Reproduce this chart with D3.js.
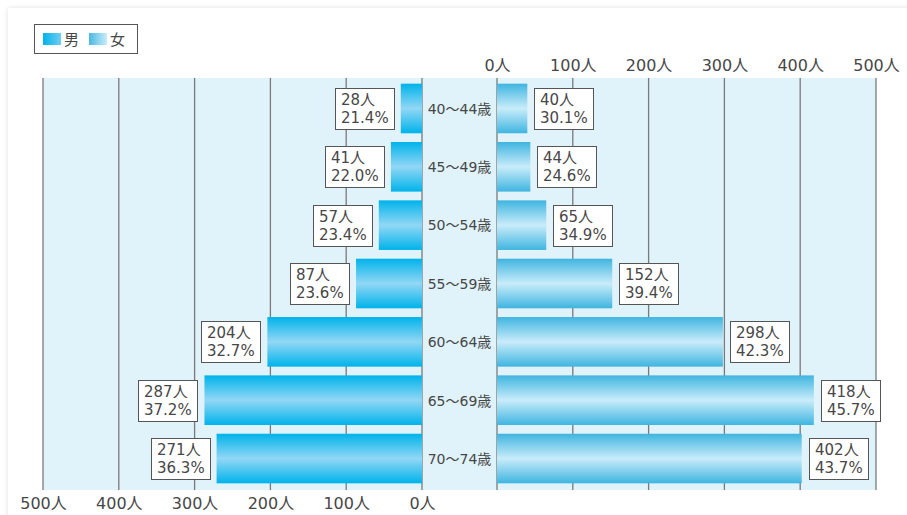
<!DOCTYPE html>
<html>
<head>
<meta charset="utf-8">
<script src="https://cdn.jsdelivr.net/npm/d3@7"></script>
<style>
  body { margin: 0; background: #fff; }
  svg { display: block; font-family: "DejaVu Sans", "Noto Sans CJK JP", sans-serif; }
</style>
</head>
<body>
<svg id="chart" width="907" height="515"></svg>
<script>
// age groups and values
const ages = ["40～44歳", "45～49歳", "50～54歳", "55～59歳", "60～64歳", "65～69歳", "70～74歳"];
const maleCount = [28, 41, 57, 87, 204, 287, 271];
const malePct = [21.4, 22.0, 23.4, 23.6, 32.7, 37.2, 36.3];
const femaleCount = [40, 44, 65, 152, 298, 418, 402];
const femalePct = [30.1, 24.6, 34.9, 39.4, 42.3, 45.7, 43.7];
const ticks = [0, 100, 200, 300, 400, 500];

const svg = d3.select("#chart");
const plotTop = 78, plotBottom = 490;
const textColor = "#474747";

// card with a soft shadow
const defs = svg.append("defs");
const f = defs.append("filter").attr("id", "shadow").attr("x", "-5%").attr("y", "-5%").attr("width", "110%").attr("height", "110%");
f.append("feDropShadow").attr("dx", 0).attr("dy", 0).attr("stdDeviation", 2.5).attr("flood-color", "#000").attr("flood-opacity", 0.12);
svg.append("rect").attr("x", 8).attr("y", 8).attr("width", 940).attr("height", 540)
    .attr("fill", "#fff").attr("filter", "url(#shadow)");

// gradients
function vGrad(id, edge, mid) {
    const g = defs.append("linearGradient").attr("id", id).attr("x1", 0).attr("y1", 0).attr("x2", 0).attr("y2", 1);
    g.append("stop").attr("offset", "0%").attr("stop-color", edge);
    g.append("stop").attr("offset", "50%").attr("stop-color", mid);
    g.append("stop").attr("offset", "100%").attr("stop-color", edge);
}
function hGrad(id, a, b) {
    const g = defs.append("linearGradient").attr("id", id).attr("x1", 0).attr("y1", 0).attr("x2", 1).attr("y2", 0);
    g.append("stop").attr("offset", "0%").attr("stop-color", a);
    g.append("stop").attr("offset", "100%").attr("stop-color", b);
}
vGrad("maleGrad", "#00b3ea", "#92d7f5");
vGrad("femaleGrad", "#3fb5e0", "#c9ecfa");
hGrad("maleLeg", "#00b3ea", "#6fcdf2");
hGrad("femaleLeg", "#4ab9e2", "#c9ecfa");

// scales
const xLeft = d3.scaleLinear().domain([0, 500]).range([422, 43]);
const xRight = d3.scaleLinear().domain([0, 500]).range([497, 876]);
const y = d3.scaleBand().domain(ages).range([plotTop + 1, plotBottom - 2]).paddingInner(0.15).paddingOuter(0.08);

// background
svg.append("rect").attr("x", xLeft(500)).attr("y", plotTop)
    .attr("width", xRight(500) - xLeft(500)).attr("height", plotBottom - plotTop)
    .attr("fill", "#e0f2fa");

// grid lines
svg.append("g").selectAll("line").data(ticks).join("line")
    .attr("x1", d => xLeft(d)).attr("x2", d => xLeft(d))
    .attr("y1", plotTop).attr("y2", plotBottom)
    .attr("stroke", "#7a7a7a").attr("stroke-width", 1.3);
svg.append("g").selectAll("line").data(ticks).join("line")
    .attr("x1", d => xRight(d)).attr("x2", d => xRight(d))
    .attr("y1", plotTop).attr("y2", plotBottom)
    .attr("stroke", "#7a7a7a").attr("stroke-width", 1.3);

// axes
const fmt = d => d + "人";
const axBottom = svg.append("g").attr("transform", `translate(0,${plotBottom})`)
    .call(d3.axisBottom(xLeft).tickValues(ticks).tickFormat(fmt).tickSize(0).tickPadding(8));
const axTop = svg.append("g").attr("transform", `translate(0,${plotTop})`)
    .call(d3.axisTop(xRight).tickValues(ticks).tickFormat(fmt).tickSize(0).tickPadding(7.5));
[axBottom, axTop].forEach(a => {
    a.select(".domain").remove();
    a.selectAll("text").attr("font-size", 16).attr("fill", textColor)
        .style("font-family", '"DejaVu Sans", "Noto Sans CJK JP", sans-serif');
});

// bars
svg.append("g").selectAll("rect").data(ages).join("rect")
    .attr("x", (d, i) => xLeft(maleCount[i]))
    .attr("y", d => y(d))
    .attr("width", (d, i) => xLeft(0) - xLeft(maleCount[i]))
    .attr("height", y.bandwidth())
    .attr("fill", "url(#maleGrad)");
svg.append("g").selectAll("rect").data(ages).join("rect")
    .attr("x", xRight(0))
    .attr("y", d => y(d))
    .attr("width", (d, i) => xRight(femaleCount[i]) - xRight(0))
    .attr("height", y.bandwidth())
    .attr("fill", "url(#femaleGrad)");

// center labels
svg.append("g").selectAll("text").data(ages).join("text")
    .attr("x", (xLeft(0) + xRight(0)) / 2)
    .attr("y", d => y(d) + y.bandwidth() / 2)
    .attr("dy", "0.38em")
    .attr("text-anchor", "middle")
    .attr("font-size", 14).attr("fill", textColor)
    .text(d => d);

// value boxes
function labelBox(xEdge, side, cy, l1, l2) {
    const g = svg.append("g");
    const r = g.append("rect").attr("fill", "#fff").attr("stroke", "#555").attr("stroke-width", 1);
    const t1 = g.append("text").text(l1);
    const t2 = g.append("text").text(l2);
    [t1, t2].forEach(t => t.attr("font-size", 15).attr("fill", textColor));
    const w = Math.round(Math.max(t1.node().getComputedTextLength(), t2.node().getComputedTextLength()) + 11);
    const h = 41;
    const x0 = Math.round(side === "left" ? xEdge - 7 - w : xEdge + 7) + 0.5;
    r.attr("x", x0).attr("y", Math.round(cy - h / 2) + 0.5).attr("width", w).attr("height", h);
    t1.attr("x", x0 + 5.5).attr("y", cy - 3.5);
    t2.attr("x", x0 + 5.5).attr("y", cy + 14.5);
}
ages.forEach((a, i) => {
    const cy = y(a) + y.bandwidth() / 2;
    labelBox(xLeft(maleCount[i]), "left", cy, maleCount[i] + "人", malePct[i].toFixed(1) + "%");
    labelBox(xRight(femaleCount[i]), "right", cy, femaleCount[i] + "人", femalePct[i].toFixed(1) + "%");
});

// legend
const leg = svg.append("g");
leg.append("rect").attr("x", 34.5).attr("y", 24.5).attr("width", 103).attr("height", 29)
    .attr("fill", "#fff").attr("stroke", "#555");
leg.append("rect").attr("x", 43).attr("y", 33).attr("width", 18).attr("height", 12).attr("fill", "url(#maleLeg)");
leg.append("text").attr("x", 64).attr("y", 45).attr("font-size", 15).attr("fill", textColor).text("男");
leg.append("rect").attr("x", 89).attr("y", 33).attr("width", 18).attr("height", 12).attr("fill", "url(#femaleLeg)");
leg.append("text").attr("x", 110).attr("y", 45).attr("font-size", 15).attr("fill", textColor).text("女");
</script>
</body>
</html>
